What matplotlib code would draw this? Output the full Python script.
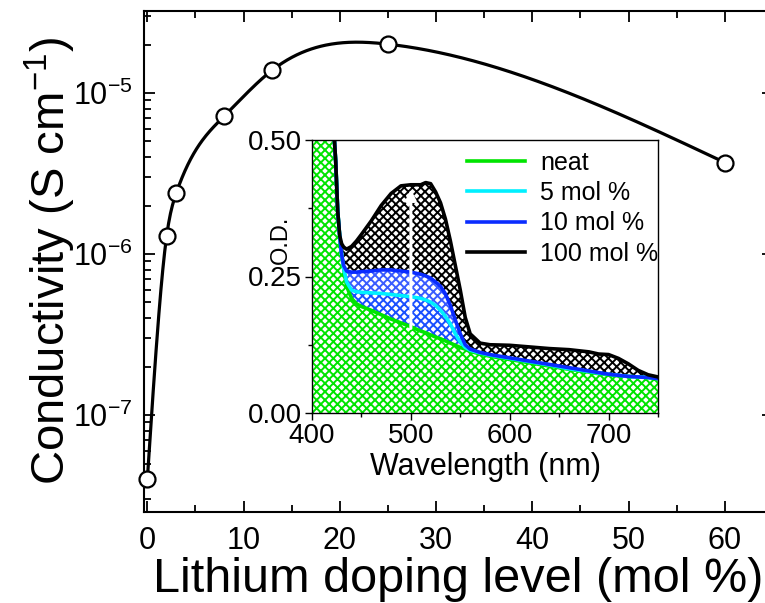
import numpy as np
import matplotlib.pyplot as plt
from matplotlib.ticker import MultipleLocator, LogLocator, NullFormatter

plt.rcParams['font.family'] = ['Liberation Sans', 'DejaVu Sans']
plt.rcParams['mathtext.fontset'] = 'custom'
plt.rcParams['mathtext.rm'] = 'Liberation Sans'
plt.rcParams['mathtext.default'] = 'regular'
plt.rcParams['axes.unicode_minus'] = False
plt.rcParams['hatch.linewidth'] = 1.4

# conductivity vs lithium doping
doping = [0, 2, 3, 8, 13, 25, 60]
conductivity = [4.0e-8, 1.29e-6, 2.39e-6, 7.2e-6, 1.39e-5, 2.01e-5, 3.7e-6]

# inset absorption spectra (shared wavelength grid)
wl = [400, 410, 420, 424, 426, 428, 430, 432, 435, 440, 445, 450, 460, 470,
      480, 490, 500, 510, 515, 520, 525, 530, 535, 540, 545, 550, 555, 560,
      570, 580, 600, 620, 640, 660, 680, 690, 700, 710, 720, 730, 740, 750]
od_neat = [0.95, 0.80, 0.58, 0.46, 0.37, 0.325, 0.29, 0.265, 0.232, 0.21,
           0.200, 0.195, 0.188, 0.180, 0.172, 0.165, 0.158, 0.150, 0.147,
           0.143, 0.139, 0.136, 0.132, 0.128, 0.124, 0.120, 0.117, 0.113,
           0.108, 0.104, 0.098, 0.092, 0.086, 0.080, 0.075, 0.072, 0.070,
           0.068, 0.067, 0.066, 0.065, 0.063]
od_5 = [0.95, 0.80, 0.58, 0.46, 0.37, 0.325, 0.29, 0.265, 0.240, 0.225,
        0.222, 0.221, 0.220, 0.219, 0.217, 0.215, 0.213, 0.210, 0.207,
        0.203, 0.197, 0.188, 0.177, 0.163, 0.145, 0.130, 0.120, 0.115,
        0.110, 0.106, 0.100, 0.094, 0.088, 0.081, 0.076, 0.073, 0.071,
        0.069, 0.067, 0.066, 0.065, 0.063]
od_10 = [0.95, 0.80, 0.58, 0.46, 0.37, 0.325, 0.29, 0.270, 0.260, 0.258,
         0.258, 0.259, 0.260, 0.262, 0.262, 0.260, 0.258, 0.254, 0.251,
         0.247, 0.240, 0.232, 0.218, 0.197, 0.170, 0.145, 0.125, 0.117,
         0.111, 0.107, 0.101, 0.095, 0.089, 0.083, 0.077, 0.074, 0.071,
         0.069, 0.067, 0.066, 0.065, 0.063]
od_100 = [0.95, 0.80, 0.58, 0.46, 0.37, 0.325, 0.310, 0.304, 0.300, 0.305,
          0.315, 0.327, 0.352, 0.380, 0.402, 0.416, 0.418, 0.418, 0.422,
          0.420, 0.405, 0.385, 0.355, 0.315, 0.270, 0.225, 0.175, 0.145,
          0.128, 0.125, 0.124, 0.121, 0.118, 0.116, 0.112, 0.108, 0.107,
          0.100, 0.090, 0.078, 0.070, 0.066]
labels = ['neat', '5 mol %', '10 mol %', '100 mol %']
colors = ['#00e400', '#00f0ff', '#0a2cff', 'black']


def natural_spline(x, y, xs):
    # natural cubic spline through (x, y), evaluated at xs
    x = np.asarray(x, float)
    y = np.asarray(y, float)
    n = len(x)
    h = np.diff(x)
    A = np.zeros((n, n))
    b = np.zeros(n)
    A[0, 0] = A[-1, -1] = 1
    for i in range(1, n - 1):
        A[i, i - 1] = h[i - 1]
        A[i, i] = 2 * (h[i - 1] + h[i])
        A[i, i + 1] = h[i]
        b[i] = 6 * ((y[i + 1] - y[i]) / h[i] - (y[i] - y[i - 1]) / h[i - 1])
    m = np.linalg.solve(A, b)
    k = np.clip(np.searchsorted(x, xs) - 1, 0, n - 2)
    t0 = x[k + 1] - xs
    t1 = xs - x[k]
    hk = h[k]
    return (m[k] * t0 ** 3 / (6 * hk) + m[k + 1] * t1 ** 3 / (6 * hk)
            + (y[k] / hk - m[k] * hk / 6) * t0
            + (y[k + 1] / hk - m[k + 1] * hk / 6) * t1)


fig = plt.figure(figsize=(7.65, 6.03), dpi=100)
ax = fig.add_axes([143.5 / 765, 91 / 603, 629.5 / 765, 501 / 603])

xs = np.linspace(doping[0], doping[-1], 600)
ys = 10 ** natural_spline(doping, np.log10(conductivity), xs)
ax.plot(xs, ys, color='black', lw=2.3, zorder=2)
ax.plot(doping, conductivity, 'o', ms=11.5, mfc='white', mec='black',
        mew=1.6, zorder=3, clip_on=False)

ax.set_yscale('log')
ax.set_xlim(-0.4, 65)
ax.set_ylim(2.5e-8, 3.23e-5)
ax.xaxis.set_major_locator(MultipleLocator(10))
ax.xaxis.set_minor_locator(MultipleLocator(5))
ax.yaxis.set_major_locator(LogLocator(base=10))
ax.yaxis.set_minor_locator(LogLocator(base=10, subs=np.arange(2, 10)))
ax.yaxis.set_minor_formatter(NullFormatter())
ax.tick_params(which='both', direction='in', top=True, right=True,
               labelsize=22, width=1.3)
ax.tick_params(which='major', length=8, pad=8)
ax.tick_params(axis='x', which='major', pad=10)
ax.tick_params(which='minor', length=5)
for s in ax.spines.values():
    s.set_linewidth(1.5)
ax.set_xlabel('Lithium doping level (mol %)', fontsize=35, labelpad=1)
ax.set_ylabel(r'Conductivity (S cm$^{-1}$)', fontsize=34, labelpad=-4)

# inset: optical density spectra
ins = fig.add_axes([312 / 765, 190 / 603, 346 / 765, 273 / 603])
ins.fill_between(wl, 0, od_neat, facecolor='white', edgecolor=colors[0],
                 hatch='xxxx', lw=0)
ins.fill_between(wl, od_neat, od_5, facecolor='white', edgecolor='#1a50ff',
                 hatch='xxxx', lw=0)
ins.fill_between(wl, od_5, od_10, facecolor='white', edgecolor='#3a5cff',
                 hatch='xxxx', lw=0)
ins.fill_between(wl, od_10, od_100, facecolor='white', edgecolor='black',
                 hatch='xxxx', lw=0)
for od, lab, c in zip([od_neat, od_5, od_10, od_100], labels, colors):
    ins.plot(wl, od, color=c, lw=2.6, label=lab)
ins.annotate('', xy=(500, 0.41), xytext=(500, 0.155), zorder=5,
             arrowprops=dict(arrowstyle='-|>', color='white', lw=2.2,
                             mutation_scale=16, shrinkA=0, shrinkB=0))

ins.set_xlim(400, 750)
ins.set_ylim(0, 0.5)
ins.xaxis.set_major_locator(MultipleLocator(100))
ins.xaxis.set_minor_locator(MultipleLocator(50))
ins.yaxis.set_major_locator(MultipleLocator(0.25))
ins.yaxis.set_minor_locator(MultipleLocator(0.125))
ins.yaxis.set_major_formatter(plt.FormatStrFormatter('%.2f'))
ins.tick_params(which='both', direction='out', labelsize=20, width=1.0)
ins.tick_params(which='major', length=5, pad=2)
ins.tick_params(which='minor', length=3)
for s in ins.spines.values():
    s.set_linewidth(1.0)
ins.set_xlabel('Wavelength (nm)', fontsize=22, labelpad=2)
ins.set_ylabel('O.D.', fontsize=17)
ins.yaxis.set_label_coords(-0.058, 0.635)
ins.legend(loc='upper right', bbox_to_anchor=(1.0, 0.96), frameon=False,
           fontsize=18, handlelength=2.3, labelspacing=0.25, borderpad=0,
           borderaxespad=0, handletextpad=0.6)

fig.savefig('out.png', dpi=100)
